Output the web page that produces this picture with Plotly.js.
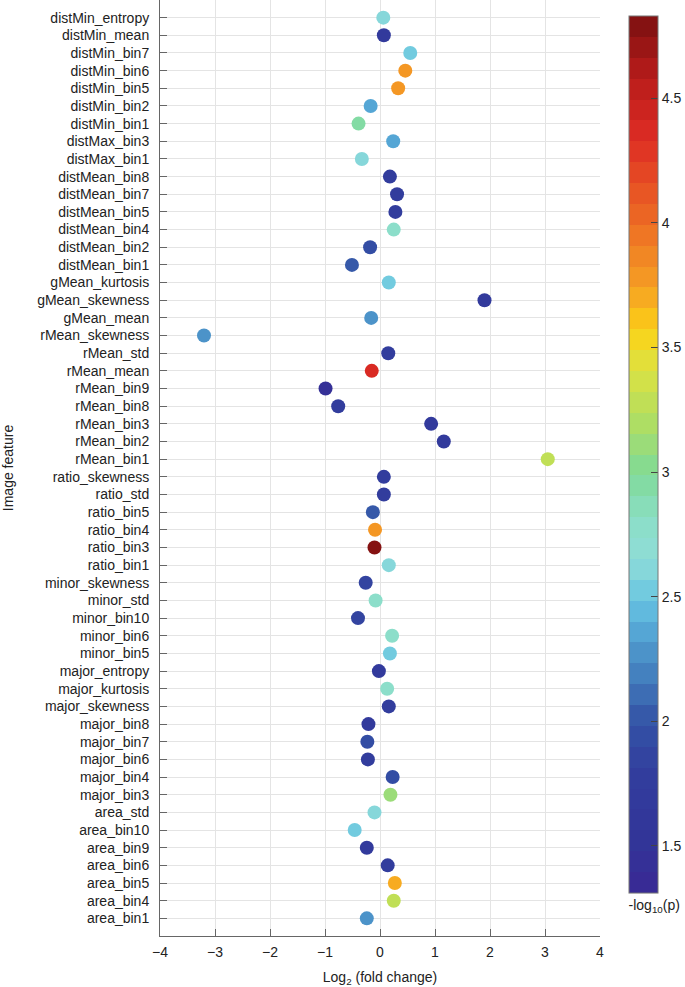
<!DOCTYPE html>
<html>
<head>
<meta charset="utf-8">
<script src="https://cdn.plot.ly/plotly-3.0.1.min.js"></script>
<style>html,body{margin:0;padding:0;background:#fff;}#chart{width:685px;height:987px;}</style>
</head>
<body>
<div id="chart"></div>
<script>
const features = ["distMin_entropy","distMin_mean","distMin_bin7","distMin_bin6","distMin_bin5","distMin_bin2","distMin_bin1","distMax_bin3","distMax_bin1","distMean_bin8","distMean_bin7","distMean_bin5","distMean_bin4","distMean_bin2","distMean_bin1","gMean_kurtosis","gMean_skewness","gMean_mean","rMean_skewness","rMean_std","rMean_mean","rMean_bin9","rMean_bin8","rMean_bin3","rMean_bin2","rMean_bin1","ratio_skewness","ratio_std","ratio_bin5","ratio_bin4","ratio_bin3","ratio_bin1","minor_skewness","minor_std","minor_bin10","minor_bin6","minor_bin5","major_entropy","major_kurtosis","major_skewness","major_bin8","major_bin7","major_bin6","major_bin4","major_bin3","area_std","area_bin10","area_bin9","area_bin6","area_bin5","area_bin4","area_bin1"];
const log2FoldChange = [0.06,0.07,0.55,0.46,0.33,-0.17,-0.39,0.24,-0.33,0.18,0.31,0.28,0.25,-0.18,-0.51,0.16,1.90,-0.16,-3.2,0.15,-0.15,-0.99,-0.76,0.93,1.16,3.05,0.07,0.07,-0.13,-0.09,-0.10,0.16,-0.26,-0.08,-0.40,0.22,0.18,-0.02,0.13,0.16,-0.21,-0.23,-0.22,0.23,0.19,-0.10,-0.46,-0.24,0.14,0.27,0.25,-0.24];
const negLog10P = [2.65,1.7,2.5,3.8,3.75,2.35,2.95,2.35,2.65,1.75,1.75,1.8,2.8,1.9,2.05,2.55,1.7,2.3,2.25,1.75,4.35,1.45,1.8,1.7,1.7,3.3,1.75,1.75,2.0,3.8,4.8,2.65,1.85,2.75,1.85,2.8,2.5,1.7,2.8,1.8,1.7,1.9,1.75,1.9,3.1,2.65,2.55,1.7,1.75,3.7,3.3,2.3];
const xTicks = [-4,-3,-2,-1,0,1,2,3,4];
const xTickText = ["\u22124","\u22123","\u22122","\u22121","0","1","2","3","4"];
const cbTicks = [1.5,2,2.5,3,3.5,4,4.5];

const cmin = 1.31, cmax = 4.83;
const baseStops = [
  [0.00,[58,40,148]],
  [0.054,[50,52,152]],
  [0.14,[50,62,158]],
  [0.196,[52,84,166]],
  [0.253,[69,131,192]],
  [0.281,[78,152,204]],
  [0.31,[90,176,220]],
  [0.338,[108,200,224]],
  [0.38,[143,220,216]],
  [0.423,[140,222,200]],
  [0.48,[128,218,150]],
  [0.54,[178,222,96]],
  [0.60,[222,226,64]],
  [0.64,[252,210,22]],
  [0.69,[246,160,36]],
  [0.77,[236,104,36]],
  [0.86,[222,44,36]],
  [0.93,[184,28,26]],
  [1.00,[122,16,16]]
];
function interp(t){
  for(let i=0;i<baseStops.length-1;i++){
    const a=baseStops[i], b=baseStops[i+1];
    if(t>=a[0] && t<=b[0]){
      const f=(t-a[0])/(b[0]-a[0]);
      const c=a[1].map((v,k)=>Math.round(v+(b[1][k]-v)*f));
      return 'rgb('+c.join(',')+')';
    }
  }
  return 'rgb('+baseStops[baseStops.length-1][1].join(',')+')';
}
const nBands = 42;
const colorscale = [];
for(let i=0;i<nBands;i++){
  const col = interp((i+0.5)/nBands);
  colorscale.push([i/nBands, col]);
  colorscale.push([(i+1)/nBands, col]);
}
const FONT = 'Liberation Sans, Arial, Helvetica, sans-serif';

const trace = {
  type:'scatter', mode:'markers',
  x: log2FoldChange, y: features,
  marker:{
    size:14, color:negLog10P, colorscale:colorscale, cmin:cmin, cmax:cmax,
    line:{width:0},
    colorbar:{
      x:1.066, xanchor:'left', xpad:0, ypad:0,
      y:0.502, yanchor:'middle', len:0.9615, lenmode:'fraction',
      thickness:29, outlinewidth:1, outlinecolor:'#777',
      ticks:'inside', ticklen:7, tickcolor:'#444', tickwidth:1,
      tickvals:cbTicks, ticktext:cbTicks.map(String),
      tickfont:{family:FONT, size:14, color:'#222'},
      title:{text:'-log<sub>10</sub>(p)', side:'bottom', font:{family:FONT, size:14, color:'#222'}}
    }
  },
  hoverinfo:'x+y', showlegend:false
};

const layout = {
  width:685, height:987,
  margin:{l:160, r:85, t:0, b:51, autoexpand:false},
  paper_bgcolor:'#fff', plot_bgcolor:'#fff',
  font:{family:FONT, size:14, color:'#222'},
  xaxis:{
    range:[-4,4], tickvals:xTicks, ticktext:xTickText,
    showgrid:true, gridcolor:'#e4e4e4', gridwidth:1,
    zeroline:false, showline:true, linecolor:'#666', linewidth:1,
    ticks:'inside', ticklen:7, tickcolor:'#666',
    tickfont:{size:14, color:'#222'}, ticklabelstandoff:3,
    title:{text:'Log<sub>2</sub> (fold change)', font:{size:14, color:'#222'}, standoff:16}
  },
  yaxis:{
    type:'category', categoryorder:'array', categoryarray:features,
    range:[52,-1],
    showgrid:true, gridcolor:'#e4e4e4', gridwidth:1,
    zeroline:false, showline:true, linecolor:'#666', linewidth:1,
    ticks:'inside', ticklen:7, tickcolor:'#666',
    tickfont:{size:14, color:'#222'}, ticklabelstandoff:7,
    title:{text:'Image feature', font:{size:14, color:'#222'}, standoff:32}
  }
};

Plotly.newPlot('chart',[trace],layout,{displayModeBar:false, staticPlot:true});
</script>
</body>
</html>
